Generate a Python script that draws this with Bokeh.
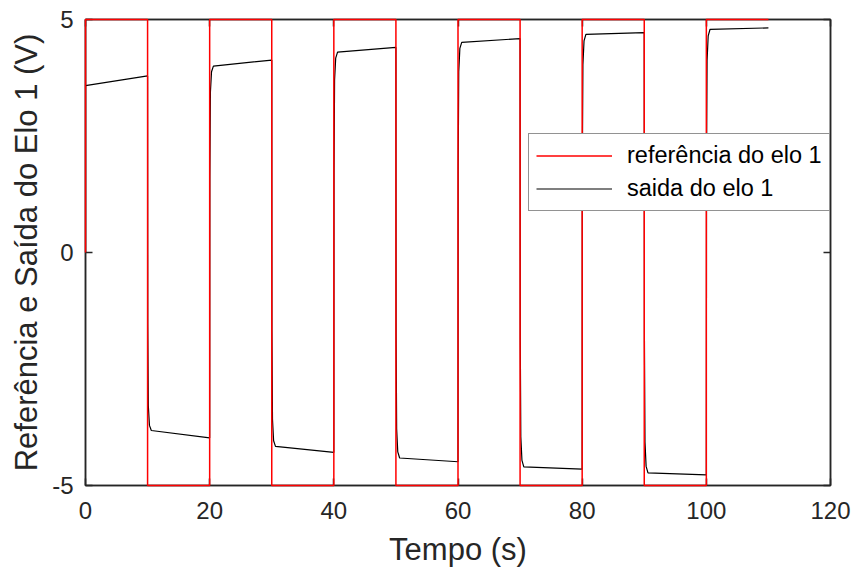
from bokeh.plotting import figure
from bokeh.models import Range1d, LinearAxis, FixedTicker, Legend, LegendItem
from bokeh.embed import file_html
from bokeh.resources import INLINE

# Reference square wave (switch times, s) and levels (V)
ref_t = [0, 0, 10, 20, 30, 40, 50, 60, 70, 80, 90, 100, 110]
ref_v = [0, 5, -5, 5, -5, 5, -5, 5, -5, 5, -5, 5, 5]

# Link 1 output
out_t = [0, 0, 10,
         10.03, 10.12, 10.3, 10.6, 20,
         20.03, 20.12, 20.3, 20.6, 30,
         30.03, 30.12, 30.3, 30.6, 40,
         40.03, 40.12, 40.3, 40.6, 50,
         50.03, 50.12, 50.3, 50.6, 60,
         60.03, 60.12, 60.3, 60.6, 70,
         70.03, 70.12, 70.3, 70.6, 80,
         80.03, 80.12, 80.3, 80.6, 90,
         90.03, 90.12, 90.3, 90.6, 100,
         100.03, 100.12, 100.3, 100.6, 110]
out_v = [0, 3.58, 3.79,
         -1.54, -3.29, -3.71, -3.82, -3.98,
         1.61, 3.44, 3.88, 4.00, 4.13,
         -1.67, -3.58, -4.04, -4.16, -4.29,
         1.72, 3.70, 4.17, 4.30, 4.40,
         -1.77, -3.79, -4.28, -4.41, -4.49,
         1.81, 3.88, 4.38, 4.51, 4.59,
         -1.84, -3.96, -4.46, -4.60, -4.65,
         1.88, 4.03, 4.54, 4.68, 4.72,
         -1.90, -4.07, -4.59, -4.73, -4.77,
         1.92, 4.12, 4.65, 4.79, 4.82]

x_ticks = [0, 20, 40, 60, 80, 100, 120]
y_ticks = [-5, 0, 5]
y_tick_labels = {-5: "-5", 0: "0", 5: "5"}

AX = "#262626"
FONT = "Liberation Sans"

p = figure(width=855, height=572, output_backend="svg", toolbar_location=None,
           x_range=Range1d(0, 120), y_range=Range1d(-5, 5),
           min_border_left=85, min_border_right=25, min_border_top=19, min_border_bottom=87,
           x_axis_label="Tempo (s)", y_axis_label="Referência e Saída do Elo 1 (V)")
p.grid.visible = False
p.outline_line_color = AX
p.outline_line_width = 1.5
p.background_fill_color = "white"
p.border_fill_color = "white"

for ax in (p.xaxis[0], p.yaxis[0]):
    ax.major_label_text_font = FONT
    ax.major_label_text_font_size = "24px"
    ax.major_label_text_color = AX
    ax.axis_label_text_font = FONT
    ax.axis_label_text_font_size = "31px"
    ax.axis_label_text_font_style = "normal"
    ax.axis_label_text_color = AX
    ax.axis_line_color = AX
    ax.axis_line_width = 1.5
    ax.major_tick_line_color = AX
    ax.major_tick_line_width = 1.5
    ax.major_tick_in = 7
    ax.major_tick_out = 0
    ax.minor_tick_line_color = None
p.xaxis[0].ticker = FixedTicker(ticks=x_ticks)
p.yaxis[0].ticker = FixedTicker(ticks=y_ticks)
p.yaxis[0].major_label_overrides = y_tick_labels
p.xaxis[0].major_label_standoff = 16
p.yaxis[0].major_label_standoff = 12
p.xaxis[0].axis_label_standoff = 10
p.yaxis[0].axis_label_standoff = 5

top = LinearAxis(ticker=FixedTicker(ticks=x_ticks),
                 major_label_overrides={t: "" for t in x_ticks},
                 major_tick_in=7, major_tick_out=0, minor_tick_line_color=None,
                 axis_line_color=AX, major_tick_line_color=AX, axis_line_width=1.5,
                 major_tick_line_width=1.5, major_label_standoff=0)
right = LinearAxis(ticker=FixedTicker(ticks=y_ticks),
                   major_label_overrides={t: "" for t in y_ticks},
                   major_tick_in=7, major_tick_out=0, minor_tick_line_color=None,
                   axis_line_color=AX, major_tick_line_color=AX, axis_line_width=1.5,
                   major_tick_line_width=1.5, major_label_standoff=0)
p.add_layout(top, "above")
p.add_layout(right, "right")

r_out = p.line(out_t, out_v, line_color="black", line_width=1.2)
r_ref = p.step(ref_t, ref_v, mode="after", line_color="#ff0000", line_width=1.5, level="overlay")

legend = Legend(items=[LegendItem(label="referência do elo 1", renderers=[r_ref]),
                       LegendItem(label="saida do elo 1", renderers=[r_out])],
                location=(443, 274), glyph_width=76, glyph_height=29, label_height=29,
                label_text_font=FONT, label_text_font_size="23.5px", label_text_color="black",
                label_standoff=15, padding=7, spacing=4, margin=0,
                border_line_color=AX, border_line_width=1, background_fill_alpha=1)
p.add_layout(legend, "center")

open("out.html", "w").write(file_html(p, INLINE))
